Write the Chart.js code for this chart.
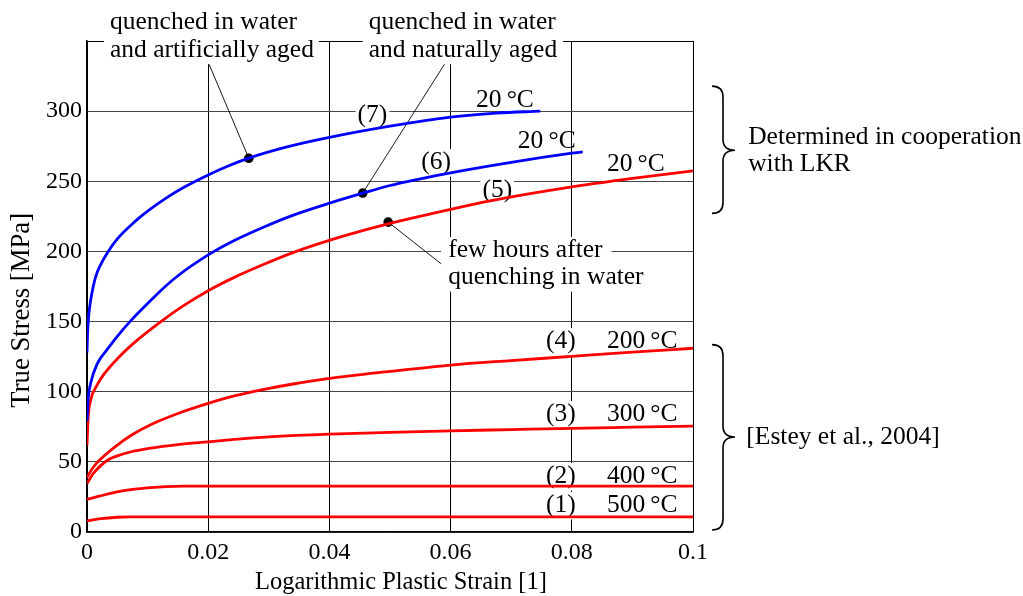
<!DOCTYPE html>
<html><head><meta charset="utf-8">
<script src="https://cdn.jsdelivr.net/npm/chart.js@4.4.1/dist/chart.umd.min.js"></script>
<style>html,body{margin:0;padding:0;background:#fff}#wrap{width:1023px;height:596px;position:relative}</style>
</head><body><div id="wrap"><canvas id="c"></canvas></div>
<script>
// ---------------- data ----------------
const xTickValues = [0, 0.02, 0.04, 0.06, 0.08, 0.1];
const xTickLabels = ['0', '0.02', '0.04', '0.06', '0.08', '0.1'];
const yTickValues = [0, 50, 100, 150, 200, 250, 300];
const yTickLabels = ['0', '50', '100', '150', '200', '250', '300'];
const xTitle = 'Logarithmic Plastic Strain [1]';
const yTitle = 'True Stress [MPa]';

// (7) quenched in water and artificially aged, 20 °C
const c7x = [0, 0.0001, 0.0003, 0.0006, 0.0014, 0.0023, 0.0034, 0.005, 0.0078, 0.0105, 0.0133, 0.016, 0.02, 0.0232, 0.0267, 0.033, 0.04, 0.05, 0.06, 0.0675, 0.0748];
const c7y = [128, 142, 155, 165, 181.5, 191, 199.3, 208.9, 220.9, 230.3, 238.7, 245.7, 254.5, 260.7, 266.5, 274.5, 281.3, 289.3, 295.8, 298.6, 300];
// (6) quenched in water and naturally aged, 20 °C
const c6x = [0, 0.0002, 0.0006, 0.0017, 0.0034, 0.005, 0.0072, 0.0105, 0.0122, 0.0149, 0.02, 0.0243, 0.0293, 0.0335, 0.0401, 0.0455, 0.05, 0.06, 0.07, 0.08, 0.0818];
const c6y = [79, 95, 106, 120, 130.5, 139.5, 150.5, 165, 172.2, 182.3, 197.5, 207.8, 217.6, 225, 234.5, 241.5, 247, 256, 263.5, 270, 271];
// (5) few hours after quenching in water, 20 °C
const c5x = [0, 0.0002, 0.0006, 0.0017, 0.0028, 0.005, 0.0078, 0.0122, 0.016, 0.02, 0.0243, 0.0293, 0.0342, 0.042, 0.05, 0.058, 0.0665, 0.08, 0.09, 0.1];
const c5y = [62, 82, 94, 105, 112.5, 123.5, 135, 150, 161.5, 172, 181.5, 191, 199.5, 210.5, 220, 228, 236, 246, 252, 257.5];
// (4) 200 °C
const c4x = [0, 0.001, 0.0025, 0.005, 0.0075, 0.0105, 0.015, 0.02, 0.0243, 0.029, 0.034, 0.04, 0.05, 0.06, 0.07, 0.08, 0.09, 0.1];
const c4y = [39, 46, 53, 62, 69.5, 76.5, 84.5, 91.7, 97, 101.5, 105.5, 109.5, 114.5, 119, 122.2, 125.2, 128.2, 131];
// (3) 300 °C
const c3x = [0, 0.001, 0.0023, 0.0035, 0.005, 0.0073, 0.0105, 0.015, 0.02, 0.0243, 0.03, 0.04, 0.05, 0.06, 0.07, 0.08, 0.09, 0.1];
const c3y = [34.5, 41.5, 47.5, 51.5, 54.3, 57.2, 59.8, 62.3, 64.3, 66, 67.8, 69.8, 71, 72.1, 73, 73.9, 74.7, 75.5];
// (2) 400 °C
const c2x = [0, 0.002, 0.005, 0.0085, 0.0105, 0.013, 0.016, 0.1];
const c2y = [23.3, 25.5, 28.6, 30.8, 31.7, 32.4, 32.7, 32.7];
// (1) 500 °C
const c1x = [0, 0.0023, 0.005, 0.007, 0.1];
const c1y = [7.9, 9.5, 10.5, 10.8, 10.8];

// marked points (dots)
const dotX = [0.0267, 0.0455, 0.0497];
const dotY = [266.4, 241.6, 220.9];

// ---------------- styling / annotation layout ----------------
const FONT = "'Liberation Serif', 'Times New Roman', serif";
const FS = 25.5;       // annotation text
const FT = 24;         // tick labels
const BLUE = '#0000ff', RED = '#ff0000';

const curves = [
  [c7x, c7y, BLUE], [c6x, c6y, BLUE], [c5x, c5y, RED],
  [c4x, c4y, RED], [c3x, c3y, RED], [c2x, c2y, RED], [c1x, c1y, RED]
];

// text annotations in data coordinates (baseline); align 'left' or 'center'
const texts = [
  {t:'quenched in water', x:0.0038, y:358.4, a:'left', bg:true, pl:6, pr:5},
  {t:'and artificially aged', x:0.0038, y:338.8, a:'left', bg:true, pl:6, pr:5},
  {t:'quenched in water', x:0.0465, y:358.4, a:'left', bg:true, pl:6, pr:6},
  {t:'and naturally aged', x:0.0465, y:338.8, a:'left', bg:true, pl:6, pr:6},
  {t:'few hours after', x:0.0596, y:196.0, a:'left', bg:true, pl:7, pr:9},
  {t:'quenching in water', x:0.0596, y:176.7, a:'left', bg:true, pl:7, pr:9},
  {t:'(7)', x:0.0471, y:292.2, a:'center', bg:true, pl:2, pr:2},
  {t:'20\u2009°C', x:0.0642, y:302.9, a:'left'},
  {t:'(6)', x:0.0576, y:258.7, a:'center', bg:true, pl:2, pr:2},
  {t:'20\u2009°C', x:0.0711, y:273.6, a:'left'},
  {t:'(5)', x:0.0677, y:238.5, a:'center', bg:true, pl:2, pr:2},
  {t:'20\u2009°C', x:0.0858, y:257.2, a:'left'},
  {t:'(4)', x:0.0782, y:131.1, a:'center', bg:true, pl:2, pr:2},
  {t:'200\u2009°C', x:0.0858, y:131.1, a:'left'},
  {t:'(3)', x:0.0782, y:79.1, a:'center', bg:true, pl:2, pr:2},
  {t:'300\u2009°C', x:0.0858, y:79.1, a:'left'},
  {t:'(2)', x:0.0782, y:34.9, a:'center', bg:true, pl:2, pr:2},
  {t:'400\u2009°C', x:0.0858, y:34.9, a:'left'},
  {t:'(1)', x:0.0782, y:14.3, a:'center', bg:true, pl:2, pr:2},
  {t:'500\u2009°C', x:0.0858, y:14.3, a:'left'},
  {t:'Determined in cooperation', x:0.1091, y:276.5, a:'left'},
  {t:'with LKR', x:0.1091, y:257.2, a:'left'},
  {t:'[Estey et al., 2004]', x:0.1088, y:62.7, a:'left'}
];
// leader lines: from a point (data coords) to a dot index
const leaders = [
  {x:0.0200, y:334.9, dot:0},
  {x:0.0591, y:334.2, dot:1},
  {x:0.0587, y:190.3, dot:2}
];
// curly braces: x positions (end, stem, tip) and y (top, middle, bottom) in data coords
const braces = [
  {x0:0.10314, xs:0.10495, xt:0.10693, yT:317.8, yM:272.1, yB:227.1},
  {x0:0.10314, xs:0.10495, xt:0.10693, yT:133.6, yM:67.7, yB:1.4}
];
// axis title placement (x title centre in strain units; y title centre in MPa)
const xTitlePos = {x: 0.0518, dy: 13, size: 24.5};
const yTitlePos = {x: 22, y: 158, size: 26.7};

const pts = (xs, ys) => xs.map((x, i) => ({x, y: ys[i]}));

const datasets = curves.map(([xs, ys, col]) => ({
  data: pts(xs, ys), borderColor: col, backgroundColor: col, borderWidth: 2.8,
  pointRadius: 0, pointHoverRadius: 0, cubicInterpolationMode: 'monotone', fill: false
}));
datasets.push({
  data: pts(dotX, dotY), showLine: false, pointRadius: 4.8, pointHoverRadius: 4.8,
  backgroundColor: '#000', borderColor: '#000', borderWidth: 0
});

const annotPlugin = {
  id: 'annot',
  beforeDatasetsDraw(chart) {
    const ctx = chart.ctx, sx = chart.scales.x, sy = chart.scales.y;
    const X = v => sx.getPixelForValue(v), Y = v => sy.getPixelForValue(v);
    ctx.save();
    // leader lines
    ctx.strokeStyle = '#000'; ctx.lineWidth = 0.9;
    leaders.forEach(l => {
      ctx.beginPath();
      ctx.moveTo(X(l.x), Y(l.y));
      ctx.lineTo(X(dotX[l.dot]), Y(dotY[l.dot]));
      ctx.stroke();
    });
    // texts
    ctx.font = FS + 'px ' + FONT;
    ctx.textAlign = 'left'; ctx.textBaseline = 'alphabetic';
    texts.forEach(t => {
      const w = ctx.measureText(t.t).width;
      let x = X(t.x); if (t.a === 'center') x -= w / 2;
      const y = Y(t.y);
      if (t.bg) {
        ctx.fillStyle = '#fff';
        ctx.fillRect(x - t.pl, y - 20, w + t.pl + t.pr, 27.5);
      }
      ctx.fillStyle = '#000';
      ctx.fillText(t.t, x, y);
    });
    // braces
    ctx.strokeStyle = '#000'; ctx.lineWidth = 1.6;
    braces.forEach(b => {
      const x0 = X(b.x0), xs = X(b.xs), xt = X(b.xt);
      const yT = Y(b.yT), yM = Y(b.yM), yB = Y(b.yB), r = 11;
      ctx.beginPath();
      ctx.moveTo(x0, yT);
      ctx.quadraticCurveTo(xs, yT, xs, yT + r);
      ctx.lineTo(xs, yM - r);
      ctx.quadraticCurveTo(xs, yM, xt, yM);
      ctx.quadraticCurveTo(xs, yM, xs, yM + r);
      ctx.lineTo(xs, yB - r);
      ctx.quadraticCurveTo(xs, yB, x0, yB);
      ctx.stroke();
    });
    ctx.restore();
  },
  afterDraw(chart) {
    const ctx = chart.ctx, sx = chart.scales.x, sy = chart.scales.y;
    ctx.save();
    ctx.fillStyle = '#000';
    ctx.textAlign = 'center'; ctx.textBaseline = 'middle';
    ctx.font = xTitlePos.size + 'px ' + FONT;
    ctx.fillText(xTitle, sx.getPixelForValue(xTitlePos.x), sx.bottom - xTitlePos.dy);
    ctx.translate(yTitlePos.x, sy.getPixelForValue(yTitlePos.y));
    ctx.rotate(-Math.PI / 2);
    ctx.font = yTitlePos.size + 'px ' + FONT;
    ctx.fillText(yTitle, 0, 0);
    ctx.restore();
  }
};

const tickFont = {family: FONT, size: FT};
new Chart(document.getElementById('c'), {
  type: 'line',
  data: {datasets},
  options: {
    responsive: true, maintainAspectRatio: false, animation: false,
    layout: {padding: {left: 0, right: 330, top: 41, bottom: 0}},
    plugins: {legend: {display: false}, tooltip: {enabled: false}},
    events: [],
    scales: {
      x: {
        type: 'linear', min: 0, max: 0.1,
        afterBuildTicks: s => { s.ticks = xTickValues.map(v => ({value: v})); },
        afterFit: s => { s.height = 64; },
        ticks: {callback: (v, i) => xTickLabels[i], font: tickFont, color: '#000', padding: 6, maxRotation: 0, autoSkip: false},
        grid: {color: '#000', lineWidth: 1, drawTicks: false},
        border: {color: '#000', width: 1.5},
        title: {display: false}
      },
      y: {
        type: 'linear', min: 0, max: 350,
        afterBuildTicks: s => { s.ticks = yTickValues.concat([350]).map(v => ({value: v})); },
        afterFit: s => { s.width = 87; },
        ticks: {callback: (v, i) => (i < yTickLabels.length ? yTickLabels[i] : ''), font: tickFont, color: '#000', padding: 5, autoSkip: false},
        grid: {color: c => (c.tick && c.tick.value === 350 ? '#000' : '#454545'), lineWidth: 1, drawTicks: false},
        border: {color: '#000', width: 1.5},
        title: {display: false}
      }
    }
  },
  plugins: [annotPlugin]
});
</script>
</body></html>
